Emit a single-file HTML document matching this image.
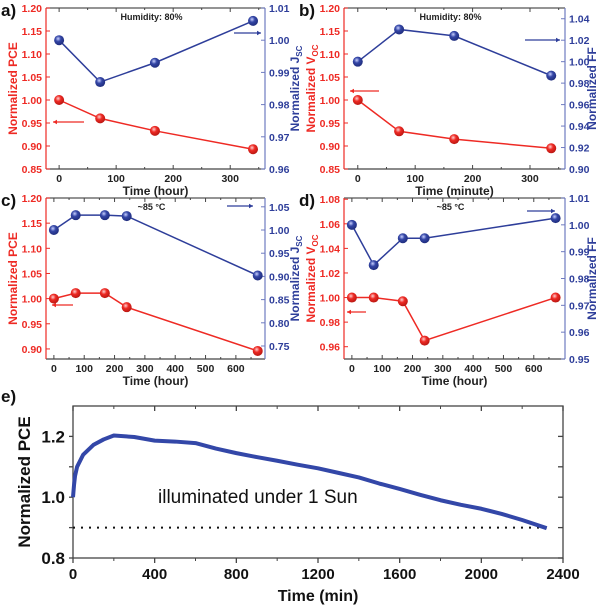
<!DOCTYPE html>
<html><head><meta charset="utf-8">
<style>
body{margin:0;background:#fff;}
svg{display:block;font-family:"Liberation Sans",Arial,sans-serif;}
</style></head>
<body>
<svg id="chart" width="600" height="610" viewBox="0 0 600 610" xmlns="http://www.w3.org/2000/svg">
<defs>
<radialGradient id="gr" cx="0.4" cy="0.35" r="0.7"><stop offset="0" stop-color="#ffd0d0"/><stop offset="0.4" stop-color="#ee2a24"/><stop offset="1" stop-color="#b31510"/></radialGradient>
<radialGradient id="gb" cx="0.4" cy="0.35" r="0.7"><stop offset="0" stop-color="#c8d0ff"/><stop offset="0.4" stop-color="#3446a6"/><stop offset="1" stop-color="#1d2a78"/></radialGradient>
</defs>
</svg>
<script>
// ---- data ----
const aTime = [0, 72, 168, 340];
const aPCE = [1.00, 0.960, 0.933, 0.893];
const aJsc = [1.000, 0.987, 0.993, 1.006];
const bTime = [0, 72, 168, 337];
const bVoc = [1.00, 0.932, 0.915, 0.895];
const bFF = [1.000, 1.030, 1.024, 0.987];
const cTime = [0, 72, 168, 240, 672];
const cPCE = [1.00, 1.011, 1.011, 0.983, 0.896];
const cJsc = [1.000, 1.032, 1.032, 1.030, 0.902];
const dTime = [0, 72, 168, 240, 672];
const dVoc = [1.000, 1.000, 0.997, 0.965, 1.000];
const dFF = [1.000, 0.985, 0.995, 0.995, 1.0025];
const eTime = [0,5,10,20,50,100,150,200,300,400,500,600,700,800,900,1000,1100,1200,1300,1400,1500,1600,1700,1800,1900,2000,2100,2200,2320];
const ePCE = [1.0,1.04,1.07,1.10,1.14,1.172,1.19,1.203,1.198,1.186,1.183,1.178,1.16,1.145,1.132,1.12,1.107,1.095,1.08,1.065,1.045,1.027,1.008,0.99,0.975,0.962,0.945,0.925,0.898];
const eTicks = [0,400,800,1200,1600,2000,2400];
const eYTicks = [0.8,1.0,1.2];

const RED='#ee2a24', BLUE='#2e3e9a';
const svg=document.getElementById('chart');
const NS='http://www.w3.org/2000/svg';
function mk(tag,attrs,parent){const e=document.createElementNS(NS,tag);for(const k in attrs)e.setAttribute(k,attrs[k]);(parent||svg).appendChild(e);return e;}
function txt(s,attrs,parent){const e=mk('text',attrs,parent);e.textContent=s;return e;}

function panel(cfg){
  const g=mk('g',{});
  
  
  const {L,R,T,B}=cfg;
  const sx=v=>L+(v-cfg.x0)/(cfg.x1-cfg.x0)*(R-L);
  const syl=v=>B-(v-cfg.l0)/(cfg.l1-cfg.l0)*(B-T);
  const syr=v=>B-(v-cfg.r0)/(cfg.r1-cfg.r0)*(B-T);
  const top=mk('line',{x1:L,y1:T,x2:R,y2:T,stroke:'#555','stroke-width':1.2},g);
  
  const bot=mk('line',{x1:L,y1:B,x2:R,y2:B,stroke:'#444','stroke-width':1.2},g);
  
  const la=mk('line',{x1:L,y1:T,x2:L,y2:B,stroke:RED,'stroke-width':1.2},g);
  
  const ra=mk('line',{x1:R,y1:T,x2:R,y2:B,stroke:'#6f7bc0','stroke-width':1.2},g);
  
  cfg.xt.forEach(v=>{const x=sx(v);
    mk('line',{x1:x,y1:B,x2:x,y2:B-4,stroke:'#444'},g);mk('line',{x1:x,y1:T,x2:x,y2:T+4,stroke:'#444'},g);
    const t=txt(String(v),{x:x,y:B+13,'font-size':10.5,'font-weight':'bold','text-anchor':'middle',fill:'#222'},g);
    
    const m=v+cfg.xstep/2;if(sx(m)<R){mk('line',{x1:sx(m),y1:B,x2:sx(m),y2:B-2,stroke:'#444'},g);mk('line',{x1:sx(m),y1:T,x2:sx(m),y2:T+2,stroke:'#444'},g);}
  });
  cfg.lt.forEach(v=>{const y=syl(v);
    mk('line',{x1:L,y1:y,x2:L+4,y2:y,stroke:RED},g);
    const t=txt(v.toFixed(2),{x:L-4,y:y+4,'font-size':10.5,'font-weight':'bold','text-anchor':'end',fill:RED},g);
    });
  cfg.rt.forEach(v=>{const y=syr(v);
    mk('line',{x1:R,y1:y,x2:R-4,y2:y,stroke:'#6f7bc0'},g);
    const t=txt(v.toFixed(2),{x:R+4,y:y+4,'font-size':10.5,'font-weight':'bold','text-anchor':'start',fill:BLUE},g);
    });
  const xl=txt(cfg.xlabel,{x:(L+R)/2,y:B+26,'font-size':12,'font-weight':'bold','text-anchor':'middle',fill:'#222'},g);
  
  const cy=(T+B)/2;
  const yl=txt('',{x:0,y:0,'font-size':12,'font-weight':'bold','text-anchor':'middle',fill:RED,transform:`translate(${cfg.llx},${cy}) rotate(-90)`},g);
  yl.innerHTML=cfg.ltitle;
  
  const yr=txt('',{x:0,y:0,'font-size':12,'font-weight':'bold','text-anchor':'middle',fill:BLUE,transform:`translate(${cfg.rlx},${cy}) rotate(-90)`},g);
  yr.innerHTML=cfg.rtitle;
  
  const lab=txt(cfg.letter,{x:L-45,y:T+8,'font-size':17,'font-weight':'bold',fill:'#111'},g);
  
  const note=txt(cfg.note,{x:(L+R)/2-4,y:T+12,'font-size':9,'font-weight':'bold','text-anchor':'middle',fill:'#222'},g);
  
  function arrow(x1,x2,y,c,n){const a=mk('g',{},g);
    mk('line',{x1:x1,y1:y,x2:x2,y2:y,stroke:c,'stroke-width':1.2},a);
    const d=x2<x1?4:-4;mk('path',{d:`M${x2},${y} L${x2+d},${y-2.2} L${x2+d},${y+2.2} Z`,fill:c},a);}
  arrow(cfg.ra[0],cfg.ra[1],cfg.ra[2],RED,'left-axis-arrow');
  arrow(cfg.ba[0],cfg.ba[1],cfg.ba[2],BLUE,'right-axis-arrow');
  function series(xs,ys,sy,c,grad,n){const s=mk('g',{},g);
    mk('polyline',{points:xs.map((x,i)=>sx(x)+','+sy(ys[i])).join(' '),fill:'none',stroke:c,'stroke-width':1.5},s);
    xs.forEach((x,i)=>{const p=mk('circle',{cx:sx(x),cy:sy(ys[i]),r:5,fill:`url(#${grad})`},s);
      });}
  series(cfg.t,cfg.lv,syl,RED,'gr',cfg.lname);
  series(cfg.t,cfg.rv,syr,BLUE,'gb',cfg.rname);
}

panel({name:'panel-a',letter:'a)',L:46,R:265,T:8,B:169,x0:-23,x1:361,l0:0.85,l1:1.20,r0:0.96,r1:1.01,
  xt:[0,100,200,300],xstep:100,lt:[0.85,0.90,0.95,1.00,1.05,1.10,1.15,1.20],rt:[0.96,0.97,0.98,0.99,1.00,1.01],
  xlabel:'Time (hour)',ltitle:'Normalized PCE',rtitle:'Normalized J<tspan font-size="8" dy="3">SC</tspan>',llx:17,rlx:299,
  note:'Humidity: 80%',ra:[84,53,122],ba:[234,261,33],t:aTime,lv:aPCE,rv:aJsc,lname:'pce-series',rname:'jsc-series'});
panel({name:'panel-b',letter:'b)',L:344,R:565,T:8,B:169,x0:-24,x1:361,l0:0.85,l1:1.20,r0:0.90,r1:1.05,
  xt:[0,100,200,300],xstep:100,lt:[0.85,0.90,0.95,1.00,1.05,1.10,1.15,1.20],rt:[0.90,0.92,0.94,0.96,0.98,1.00,1.02,1.04],
  xlabel:'Time (minute)',ltitle:'Normalized V<tspan font-size="8" dy="3">OC</tspan>',rtitle:'Normalized FF',llx:315,rlx:596,
  note:'Humidity: 80%',ra:[379,350,91],ba:[525,560,40],t:bTime,lv:bVoc,rv:bFF,lname:'voc-series',rname:'ff-series'});
panel({name:'panel-c',letter:'c)',L:46,R:265,T:198,B:359,x0:-26,x1:696,l0:0.88,l1:1.20,r0:0.722,r1:1.069,
  xt:[0,100,200,300,400,500,600],xstep:100,lt:[0.90,0.95,1.00,1.05,1.10,1.15,1.20],rt:[0.75,0.80,0.85,0.90,0.95,1.00,1.05],
  xlabel:'Time (hour)',ltitle:'Normalized PCE',rtitle:'Normalized J<tspan font-size="8" dy="3">SC</tspan>',llx:17,rlx:299,
  note:'~85 °C',ra:[73,52,305],ba:[227,253,206],t:cTime,lv:cPCE,rv:cJsc,lname:'pce-series',rname:'jsc-series'});
panel({name:'panel-d',letter:'d)',L:344,R:565,T:198,B:359,x0:-26,x1:703,l0:0.95,l1:1.081,r0:0.95,r1:1.01,
  xt:[0,100,200,300,400,500,600],xstep:100,lt:[0.96,0.98,1.00,1.02,1.04,1.06,1.08],rt:[0.95,0.96,0.97,0.98,0.99,1.00,1.01],
  xlabel:'Time (hour)',ltitle:'Normalized V<tspan font-size="8" dy="3">OC</tspan>',rtitle:'Normalized FF',llx:315,rlx:596,
  note:'~85 °C',ra:[366,347,312],ba:[527,555,211],t:dTime,lv:dVoc,rv:dFF,lname:'voc-series',rname:'ff-series'});

(function(){
  const L=73,R=563,T=406,B=558,x0=0,x1=2400,y0=0.8,y1=1.3;
  const sx=v=>L+(v-x0)/(x1-x0)*(R-L), sy=v=>B-(v-y0)/(y1-y0)*(B-T);
  const g=mk('g',{});
  const fr=mk('rect',{x:L,y:T,width:R-L,height:B-T,fill:'none',stroke:'#444','stroke-width':1.3},g);
  
  eTicks.forEach(v=>{const x=sx(v);
    mk('line',{x1:x,y1:B,x2:x,y2:B+5,stroke:'#444','stroke-width':1.3},g);mk('line',{x1:x,y1:T,x2:x,y2:T+5,stroke:'#444','stroke-width':1.3},g);
    if(v+200<x1){mk('line',{x1:sx(v+200),y1:B,x2:sx(v+200),y2:B+3,stroke:'#444'},g);mk('line',{x1:sx(v+200),y1:T,x2:sx(v+200),y2:T+3,stroke:'#444'},g);}
    const t=txt(String(v),{x:x,y:B+21,'font-size':15,'font-weight':'bold','text-anchor':'middle',fill:'#111'},g);
    });
  [0.8,0.9,1.0,1.1,1.2].forEach(v=>{const y=sy(v);
    mk('line',{x1:L,y1:y,x2:L-4,y2:y,stroke:'#444','stroke-width':1.3},g);mk('line',{x1:R,y1:y,x2:R-5,y2:y,stroke:'#444','stroke-width':1.3},g);});
  eYTicks.forEach(v=>{const t=txt(v.toFixed(1),{x:L-8,y:sy(v)+6,'font-size':17,'font-weight':'bold','text-anchor':'end',fill:'#111'},g);
    });
  const dl=mk('line',{x1:sx(0),y1:sy(0.9),x2:sx(2320),y2:sy(0.9),stroke:'#111','stroke-width':2,'stroke-dasharray':'2 6'},g);
  
  const pl=mk('polyline',{points:eTime.map((t,i)=>sx(t)+','+sy(ePCE[i])).join(' '),fill:'none',stroke:'#3347a8','stroke-width':4,'stroke-linejoin':'round'},g);
  
  const an=txt('illuminated under 1 Sun',{x:158,y:503,'font-size':19,fill:'#111'},g);
  
  const xl=txt('Time (min)',{x:318,y:601,'font-size':16,'font-weight':'bold','text-anchor':'middle',fill:'#111'},g);
  
  const yl=txt('Normalized PCE',{x:0,y:0,'font-size':17,'font-weight':'bold','text-anchor':'middle',fill:'#111',transform:'translate(30,482) rotate(-90)'},g);
  
  const lb=txt('e)',{x:1,y:402,'font-size':17,'font-weight':'bold',fill:'#111'},g);
  
})();
</script>
</body></html>
